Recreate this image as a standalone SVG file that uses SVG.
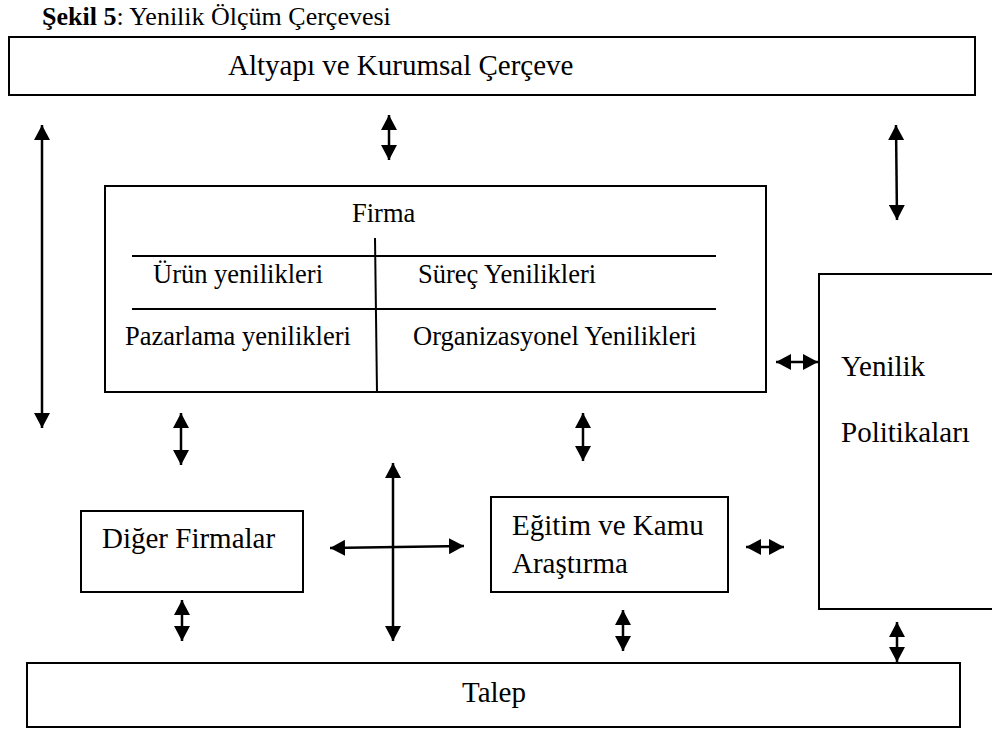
<svg xmlns="http://www.w3.org/2000/svg" width="992" height="731" viewBox="0 0 992 731">
<style>
text { font-family: "Liberation Serif", "Times New Roman", serif; fill: #000; }
.box { fill: #fff; stroke: #000; stroke-width: 2; }
.big { font-size: 29px; }
.mid { font-size: 26.5px; }
.ttl { font-size: 26px; }
.inner { stroke: #000; stroke-width: 2; fill: none; }
.arr { stroke: #000; stroke-width: 2.5; fill: none; marker-start: url(#ah); marker-end: url(#ah); }
</style>
<defs>
<marker id="ah" viewBox="0 0 15 16" refX="15" refY="8" markerWidth="15" markerHeight="16" markerUnits="userSpaceOnUse" orient="auto-start-reverse">
<path d="M0,0 L15,8 L0,16 z" fill="#000"/>
</marker>
</defs>
<rect width="992" height="731" fill="#fff"/>
<text x="42" y="25" class="ttl"><tspan font-weight="bold">Şekil 5</tspan>: Yenilik Ölçüm Çerçevesi</text>

<g id="altyapi">
<rect class="box" x="9" y="37" width="966" height="58"/>
<text x="228" y="75" class="big">Altyapı ve Kurumsal Çerçeve</text>
</g>

<g id="firma">
<rect class="box" x="105" y="186" width="661" height="206"/>
<text x="352" y="222" class="mid">Firma</text>
<line class="inner" x1="132" y1="256" x2="716" y2="256"/>
<line class="inner" x1="132" y1="309" x2="716" y2="309"/>
<line class="inner" x1="375" y1="238" x2="377" y2="392"/>
<text x="153" y="283" class="mid">Ürün yenilikleri</text>
<text x="418" y="283" class="mid">Süreç Yenilikleri</text>
<text x="125" y="345" class="mid">Pazarlama yenilikleri</text>
<text x="413" y="345" class="mid">Organizasyonel Yenilikleri</text>
</g>

<g id="yenilik">
<rect class="box" x="819" y="274" width="200" height="335"/>
<text x="841" y="376" class="big">Yenilik</text>
<text x="841" y="442" class="big">Politikaları</text>
</g>

<g id="diger">
<rect class="box" x="81" y="511" width="222" height="81"/>
<text x="102" y="548" class="big">Diğer Firmalar</text>
</g>

<g id="egitim">
<rect class="box" x="491" y="497" width="237" height="95"/>
<text x="512" y="535" class="big">Eğitim ve Kamu</text>
<text x="512" y="573" class="big">Araştırma</text>
</g>

<g id="talep">
<rect class="box" x="27" y="663" width="933" height="64"/>
<text x="462" y="702" class="big">Talep</text>
</g>

<g id="connectors">
<line class="arr" x1="42" y1="125" x2="42" y2="428"/>
<line class="arr" x1="389" y1="115" x2="389" y2="160"/>
<line class="arr" x1="896" y1="125" x2="897" y2="220"/>
<line class="arr" x1="776" y1="362" x2="818" y2="362"/>
<line class="arr" x1="181" y1="413" x2="181" y2="465"/>
<line class="arr" x1="583" y1="413" x2="583" y2="461"/>
<line class="arr" x1="393" y1="463" x2="393" y2="641"/>
<line class="arr" x1="330" y1="548" x2="464" y2="546"/>
<line class="arr" x1="746" y1="547" x2="784" y2="547"/>
<line class="arr" x1="182" y1="600" x2="182" y2="641"/>
<line class="arr" x1="623" y1="610" x2="623" y2="651"/>
<line class="arr" x1="897" y1="622" x2="897" y2="662"/>
</g>
</svg>
